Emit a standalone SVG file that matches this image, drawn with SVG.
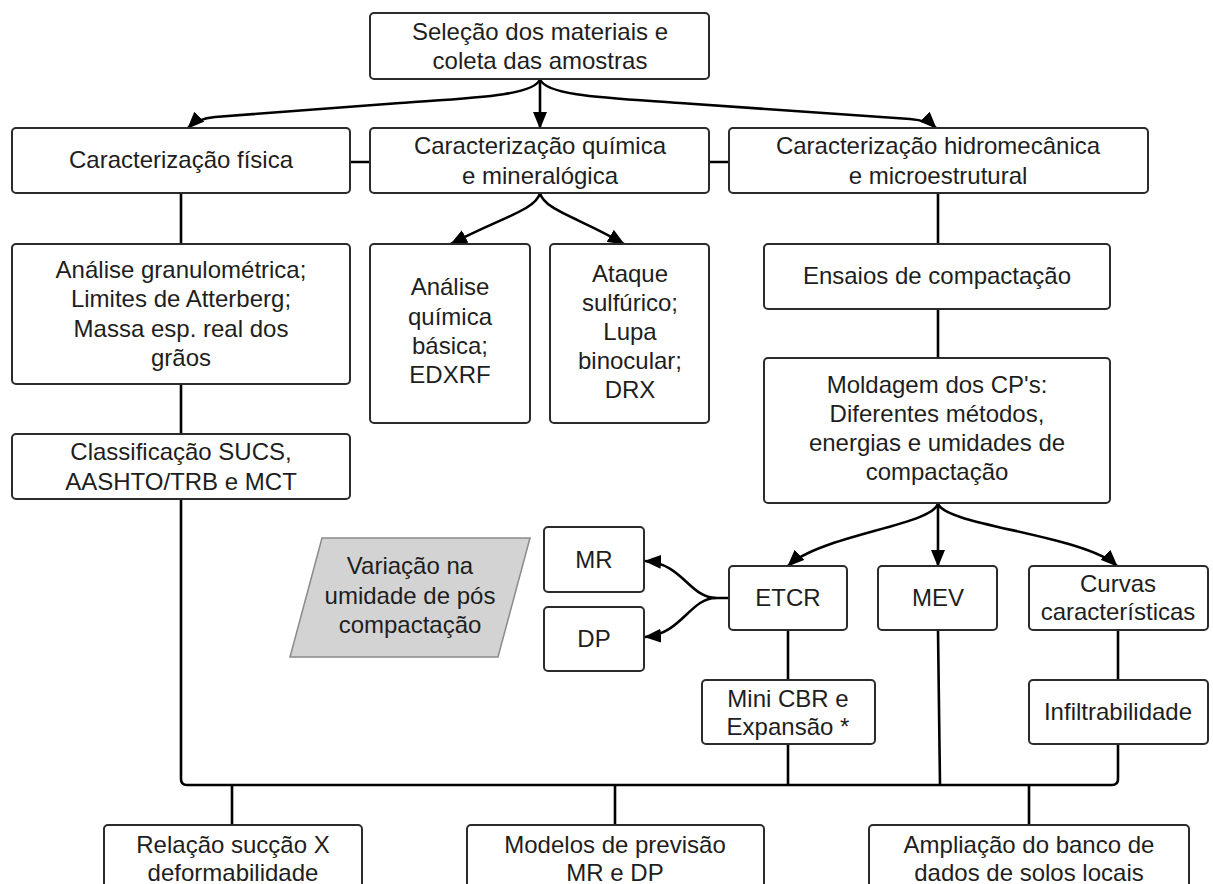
<svg xmlns="http://www.w3.org/2000/svg" width="1213" height="884" viewBox="0 0 1213 884">
<defs>
<style>
.box{fill:#fff;stroke:#2b2b2b;stroke-width:2}
.para{fill:#d3d3d3;stroke:#8a8a8a;stroke-width:1.5}
text{font-family:"Liberation Sans",Arial,sans-serif;font-size:24px;fill:#1e1e1e;text-anchor:middle}
.c{fill:none;stroke:#000;stroke-width:2.6;stroke-linejoin:round}
.a{fill:none;stroke:#000;stroke-width:2.6;marker-end:url(#ah)}
</style>
<marker id="ah" markerUnits="userSpaceOnUse" markerWidth="17" markerHeight="14" refX="16" refY="7" orient="auto">
<path d="M0,0 L17,7 L0,14 z" fill="#000"/>
</marker>
</defs>
<rect width="1213" height="884" fill="#fff"/>

<g id="connectors">
<path class="a" d="M 540 79 C 535 96, 470 98, 400 103 L 215 117 C 203 118, 194 122, 188 128"/>
<path class="a" d="M 540 79 L 540 128"/>
<path class="a" d="M 540 79 C 545 96, 610 98, 680 103 L 910 119 C 922 120, 931 123, 936 128"/>
<path class="c" d="M 350 162 L 370 162 M 709 162 L 729 162"/>
<path class="a" d="M 540 193 C 536 210, 500 218, 451 244"/>
<path class="a" d="M 540 193 C 544 210, 580 218, 624 244"/>
<path class="c" d="M 181 193 L 181 244 M 181 384 L 181 434"/>
<path class="c" d="M 938 193 L 938 244 M 938 309 L 938 358"/>
<path class="a" d="M 938 503 C 935 525, 820 535, 788 566"/>
<path class="a" d="M 938 503 L 938 566"/>
<path class="a" d="M 938 503 C 941 525, 1085 535, 1117 566"/>
<path class="a" d="M 729 598 L 716 598 C 690 598, 682 563, 645 561"/>
<path class="a" d="M 716 598 C 690 598, 682 634, 645 637"/>
<path class="c" d="M 788 630 L 788 680 M 788 744 L 788 785 M 938 630 L 940 785 M 1118 630 L 1118 680"/>
<path class="c" d="M 181 499 L 181 779 Q 181 785 187 785 L 1112 785 Q 1118 785 1118 779 L 1118 744"/>
<path class="c" d="M 232 785 L 232 825 M 615 785 L 615 825 M 1029 785 L 1029 825"/>
</g>

<g id="n-selecao"><rect class="box" x="370" y="13" width="339" height="66" rx="4"/><text x="540" y="40">Seleção dos materiais e</text><text x="540" y="69">coleta das amostras</text></g>
<g id="n-fisica"><rect class="box" x="12" y="128" width="338" height="65" rx="4"/><text x="181" y="168">Caracterização física</text></g>
<g id="n-quimica"><rect class="box" x="370" y="128" width="339" height="65" rx="4"/><text x="540" y="154">Caracterização química</text><text x="540" y="184">e mineralógica</text></g>
<g id="n-hidro"><rect class="box" x="729" y="128" width="419" height="65" rx="4"/><text x="938" y="154">Caracterização hidromecânica</text><text x="938" y="184">e microestrutural</text></g>
<g id="n-granulo"><rect class="box" x="12" y="244" width="338" height="140" rx="4"/><text x="181" y="278">Análise granulométrica;</text><text x="181" y="307">Limites de Atterberg;</text><text x="181" y="337">Massa esp. real dos</text><text x="181" y="366">grãos</text></g>
<g id="n-analise-quimica"><rect class="box" x="370" y="244" width="160" height="179" rx="4"/><text x="450" y="295">Análise</text><text x="450" y="325">química</text><text x="450" y="354">básica;</text><text x="450" y="383">EDXRF</text></g>
<g id="n-ataque"><rect class="box" x="550" y="244" width="159" height="179" rx="4"/><text x="630" y="282">Ataque</text><text x="630" y="311">sulfúrico;</text><text x="630" y="340">Lupa</text><text x="630" y="369">binocular;</text><text x="630" y="398">DRX</text></g>
<g id="n-ensaios"><rect class="box" x="764" y="244" width="346" height="65" rx="4"/><text x="937" y="284">Ensaios de compactação</text></g>
<g id="n-classif"><rect class="box" x="12" y="434" width="338" height="65" rx="4"/><text x="181" y="460">Classificação SUCS,</text><text x="181" y="490">AASHTO/TRB e MCT</text></g>
<g id="n-moldagem"><rect class="box" x="764" y="358" width="346" height="145" rx="4"/><text x="937" y="393">Moldagem dos CP's:</text><text x="937" y="422">Diferentes métodos,</text><text x="937" y="451">energias e umidades de</text><text x="937" y="480">compactação</text></g>
<g id="n-variacao"><polygon class="para" points="322,538 530,538 498,657 290,657"/><text x="410" y="574">Variação na</text><text x="410" y="604">umidade de pós</text><text x="410" y="633">compactação</text></g>
<g id="n-mr"><rect class="box" x="544" y="527" width="100" height="65" rx="4"/><text x="594" y="568">MR</text></g>
<g id="n-dp"><rect class="box" x="544" y="607" width="100" height="64" rx="4"/><text x="594" y="647">DP</text></g>
<g id="n-etcr"><rect class="box" x="729" y="566" width="118" height="64" rx="4"/><text x="788" y="606">ETCR</text></g>
<g id="n-mev"><rect class="box" x="878" y="566" width="119" height="64" rx="4"/><text x="938" y="606">MEV</text></g>
<g id="n-curvas"><rect class="box" x="1029" y="566" width="179" height="64" rx="4"/><text x="1118" y="592">Curvas</text><text x="1118" y="620">características</text></g>
<g id="n-minicbr"><rect class="box" x="702" y="680" width="173" height="64" rx="4"/><text x="788" y="707">Mini CBR e</text><text x="788" y="735">Expansão *</text></g>
<g id="n-infiltr"><rect class="box" x="1029" y="680" width="179" height="64" rx="4"/><text x="1118" y="720">Infiltrabilidade</text></g>
<g id="n-relacao"><rect class="box" x="104" y="825" width="258" height="80" rx="4"/><text x="233" y="853">Relação sucção X</text><text x="233" y="881">deformabilidade</text></g>
<g id="n-modelos"><rect class="box" x="467" y="825" width="297" height="80" rx="4"/><text x="615" y="853">Modelos de previsão</text><text x="615" y="881">MR e DP</text></g>
<g id="n-ampliacao"><rect class="box" x="869" y="825" width="320" height="80" rx="4"/><text x="1029" y="853">Ampliação do banco de</text><text x="1029" y="881">dados de solos locais</text></g>
</svg>
